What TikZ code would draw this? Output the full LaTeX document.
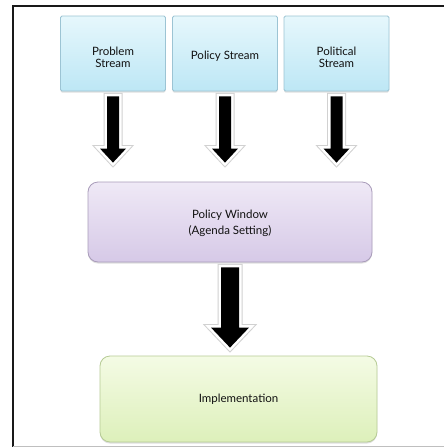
\documentclass[tikz,border=0pt]{standalone}
\usepackage{fontspec}
\setmainfont{Lato}
\usetikzlibrary{calc,shadows}
\definecolor{txt}{HTML}{111111}
\definecolor{bluetop}{HTML}{E6F7FC}
\definecolor{bluebot}{HTML}{BDE7F5}
\definecolor{blueline}{HTML}{9CC4D4}
\definecolor{purtop}{HTML}{EFE9F6}
\definecolor{purbot}{HTML}{D6C9E7}
\definecolor{purline}{HTML}{A99CBA}
\definecolor{grntop}{HTML}{F4FBE5}
\definecolor{grnbot}{HTML}{DDF0BA}
\definecolor{grnline}{HTML}{B6CB95}
\tikzset{
  streambox/.style={draw=blueline, line width=0.8pt, rounded corners=1.5pt,
    top color=bluetop, bottom color=bluebot, minimum width=105pt, minimum height=75pt,
    align=center, text=txt, font=\fontsize{11.5}{12}\selectfont,
    drop shadow={shadow xshift=0pt, shadow yshift=-1.5pt, opacity=0.25}},
  windowbox/.style={draw=purline, line width=0.8pt, rounded corners=10pt,
    top color=purtop, bottom color=purbot, minimum width=284pt, minimum height=80pt,
    align=center, text=txt, font=\fontsize{11.5}{16}\selectfont,
    drop shadow={shadow xshift=0pt, shadow yshift=-1.5pt, opacity=0.25}},
  implbox/.style={draw=grnline, line width=0.8pt, rounded corners=10pt,
    top color=grntop, bottom color=grnbot, minimum width=277pt, minimum height=86pt,
    align=center, text=txt, font=\fontsize{11.5}{12}\selectfont,
    drop shadow={shadow xshift=0pt, shadow yshift=-1.5pt, opacity=0.25}},
  arrshadow/.style={draw=black!18, line width=7pt, line join=miter, fill=black!18},
  arrwhite/.style={draw=white, line width=5pt, line join=miter, fill=white},
  arrblack/.style={fill=black, draw=none},
}
% #1 style, #2 start, #3 end, #4 shaft half width, #5 head half width, #6 head length
\newcommand\fatarrowpath[6]{%
  \path[#1] let \p1=(#2), \p2=(#3) in
    (\x1-#4,\y1) -- (\x1+#4,\y1) -- (\x1+#4,\y2+#6) -- (\x1+#5,\y2+#6)
    -- (\x1,\y2) -- (\x1-#5,\y2+#6) -- (\x1-#4,\y2+#6) -- cycle;}
\newcommand\fatarrow[5]{%
  \fatarrowpath{arrshadow}{#1}{#2}{#3}{#4}{#5}%
  \fatarrowpath{arrwhite}{#1}{#2}{#3}{#4}{#5}%
  \fatarrowpath{arrblack}{#1}{#2}{#3}{#4}{#5}}
\begin{document}
\begin{tikzpicture}[x=1pt,y=1pt]
\useasboundingbox (0,0) rectangle (444,-448);
\fill[white] (0,0) rectangle (444,-448);
% frame
\draw[black!90, line width=2.5pt] (444,-6) -- (13,-6) -- (13,-447);
\draw[black!25, line width=1.5pt] (13,-446.5) -- (444,-446.5);
% nodes
\node[streambox] (prob) at (113,-53.5) {\rule{0pt}{17pt}Problem\\Stream};
\node[streambox] (poli) at (225,-53.5) {\rule{0pt}{13pt}Policy Stream};
\node[streambox] (polt) at (336.5,-53.5) {\rule{0pt}{17pt}Political\\Stream};
\node[windowbox] (win) at (230,-222) {\rule{0pt}{12pt}Policy Window\\(Agenda Setting)};
\node[implbox] (impl) at (238.5,-399) {Implementation};
% arrows
\fatarrow{[yshift=-5pt]prob.south}{[yshift=19pt]win.north}{6}{13}{14}
\fatarrow{[yshift=-5pt]poli.south}{[yshift=19pt]win.north}{6}{13}{14}
\fatarrow{[yshift=-5pt]polt.south}{[yshift=19pt]win.north}{6}{13}{14}
\fatarrow{[yshift=-5pt]win.south}{[yshift=8pt]impl.north}{9}{19}{20}
\end{tikzpicture}
\end{document}
